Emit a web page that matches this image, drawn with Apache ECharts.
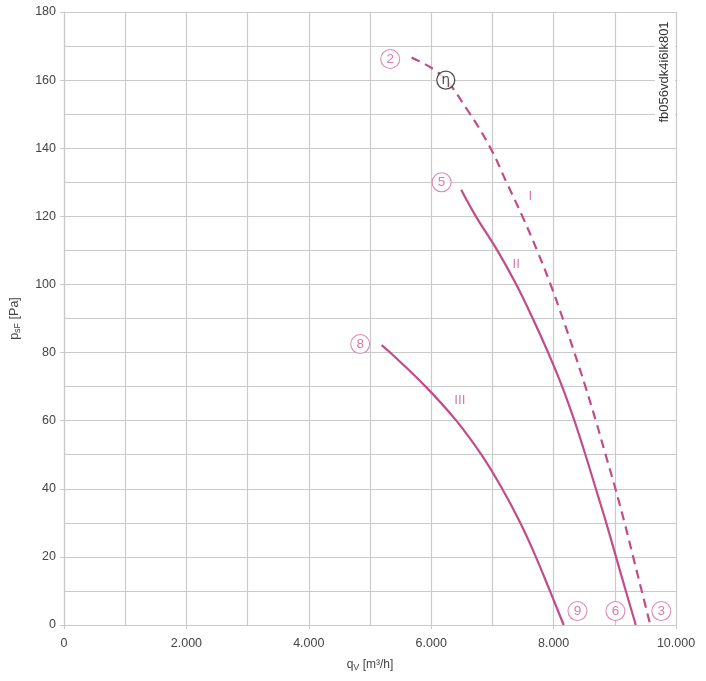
<!DOCTYPE html>
<html>
<head>
<meta charset="utf-8">
<script src="https://cdn.jsdelivr.net/npm/echarts@6/dist/echarts.min.js"></script>
<style>
  html, body { margin: 0; padding: 0; background: #fff; }
  #chart { width: 706px; height: 681px; }
</style>
</head>
<body>
<div id="chart"></div>
<script>
// Kennlinien (q_V in m³/h, p_sF in Pa)
const qI   = [5680, 6160, 6600, 6970, 7230, 7490, 7730, 7950, 8150, 8340, 8520, 8690, 8850, 9010, 9160, 9300, 9440, 9580];
const pI   = [166.6, 161.5, 151, 140, 130, 120, 110, 100, 90, 80, 70, 60, 50, 40, 30, 20, 10, 0];
const qII  = [6490, 6730, 7080, 7390, 7660, 7910, 8140, 8340, 8520, 8690, 8860, 9020, 9180, 9343];
const pII  = [127.8, 120, 110, 100, 90, 80, 70, 60, 50, 40, 30, 20, 10, 0];
const qIII = [5190, 5330, 5910, 6410, 6820, 7160, 7455, 7710, 7940, 8165];
const pIII = [82.2, 80, 70, 60, 50, 40, 30, 20, 10, 0];

// Betriebspunkte (eingekreiste Nummern)
const pointNames = ['2', '5', '8', '9', '6', '3'];
const pointQ     = [5330, 6170, 4840, 8390, 9010, 9760];
const pointP     = [166.2, 130, 82.5, 4.1, 4.1, 4.1];

// Kurvenbezeichnungen
const curveNames = ['I', 'II', 'III'];
const curveQ     = [7620, 7390, 6470];
const curveP     = [126, 106, 66];

// Wirkungsgrad-Markierung
const etaQ = 6238, etaP = 160;

const zip = (xs, ys) => xs.map((x, i) => [x, ys[i]]);
const pink = '#c24d86';
const gridColor = '#cacaca';
const font = 'Liberation Sans, Arial, sans-serif';

const chart = echarts.init(document.getElementById('chart'));

const lineBase = {
  type: 'line',
  smooth: 0.4,
  symbol: 'none',
  silent: true
};

const option = {
  backgroundColor: '#fff',
  animation: false,
  grid: { left: 62, right: 30, top: 12, bottom: 56 },
  xAxis: {
    type: 'value',
    min: 0, max: 10000, interval: 2000,
    name: '{n|q}{s|V}{n| [m³/h]}',
    nameLocation: 'middle',
    nameGap: 32,
    nameTextStyle: {
      rich: {
        n: { fontSize: 12, color: '#444', fontFamily: font },
        s: { fontSize: 9, color: '#444', fontFamily: font, padding: [6, 0, 0, 0] }
      }
    },
    axisLine: { show: true, lineStyle: { color: gridColor, width: 1.2 } },
    axisTick: { show: true, length: 4, lineStyle: { color: gridColor } },
    axisLabel: {
      color: '#444', fontSize: 12.5, fontFamily: font, margin: 12,
      formatter: v => v === 0 ? '0' : (v / 1000).toFixed(0) + '.000'
    },
    splitLine: { show: true, lineStyle: { color: gridColor, width: 1.2 } },
    minorTick: { show: false, splitNumber: 2 },
    minorSplitLine: { show: true, lineStyle: { color: gridColor, width: 1.2 } }
  },
  yAxis: {
    type: 'value',
    min: 0, max: 180, interval: 20,
    name: '{n|p}{s|sF}{n| [Pa]}',
    nameLocation: 'middle',
    nameRotate: 90,
    nameGap: 42,
    nameTextStyle: {
      rich: {
        n: { fontSize: 12.5, color: '#444', fontFamily: font },
        s: { fontSize: 9, color: '#444', fontFamily: font, padding: [6, 0, 0, 0] }
      }
    },
    axisLine: { show: true, lineStyle: { color: gridColor, width: 1.2 } },
    axisTick: { show: true, length: 4, lineStyle: { color: gridColor } },
    axisLabel: { color: '#444', fontSize: 12.5, fontFamily: font, margin: 8 },
    splitLine: { show: true, lineStyle: { color: gridColor, width: 1.2 } },
    minorTick: { show: false, splitNumber: 2 },
    minorSplitLine: { show: true, lineStyle: { color: gridColor, width: 1.2 } }
  },
  series: [
    Object.assign({}, lineBase, {
      name: 'I',
      data: zip(qI, pI),
      lineStyle: { color: pink, width: 2.2, type: [9, 6] }
    }),
    Object.assign({}, lineBase, {
      name: 'II',
      data: zip(qII, pII),
      lineStyle: { color: pink, width: 2.2 }
    }),
    Object.assign({}, lineBase, {
      name: 'III',
      data: zip(qIII, pIII),
      lineStyle: { color: pink, width: 2.2 }
    }),
    {
      // eingekreiste Nummern
      type: 'scatter',
      silent: true,
      symbol: 'circle',
      symbolSize: 19,
      itemStyle: { color: '#fff', borderColor: '#d66ea0', borderWidth: 1.1 },
      label: {
        show: true, position: 'inside',
        formatter: p => pointNames[p.dataIndex],
        color: '#d05a95', fontSize: 13.5, fontFamily: font
      },
      data: zip(pointQ, pointP),
      z: 5
    },
    {
      // Kurvenbezeichnungen I, II, III
      type: 'scatter',
      silent: true,
      symbolSize: 0,
      label: {
        show: true, position: 'inside',
        formatter: p => curveNames[p.dataIndex],
        color: '#d05a95', fontSize: 13.5, fontFamily: font
      },
      data: zip(curveQ, curveP)
    },
    {
      // eta
      type: 'scatter',
      silent: true,
      symbol: 'circle',
      symbolSize: 18,
      itemStyle: { color: '#fff', borderColor: '#222', borderWidth: 1.3 },
      label: {
        show: true, position: 'inside', formatter: 'η',
        color: '#222', fontSize: 13.5, fontFamily: 'DejaVu Sans, sans-serif'
      },
      data: [[etaQ, etaP]],
      z: 6
    }
  ],
  graphic: [
    {
      type: 'rect',
      shape: { x: 655, y: 14, width: 20, height: 116 },
      style: { fill: '#fff' },
      z: 10
    },
    {
      type: 'text',
      x: 664, y: 72,
      rotation: Math.PI / 2,
      style: {
        text: 'fb056vdk4i6lk801',
        fill: '#333',
        font: '13px ' + font,
        textAlign: 'center',
        textVerticalAlign: 'middle'
      },
      z: 11
    }
  ]
};

chart.setOption(option);
</script>
</body>
</html>
